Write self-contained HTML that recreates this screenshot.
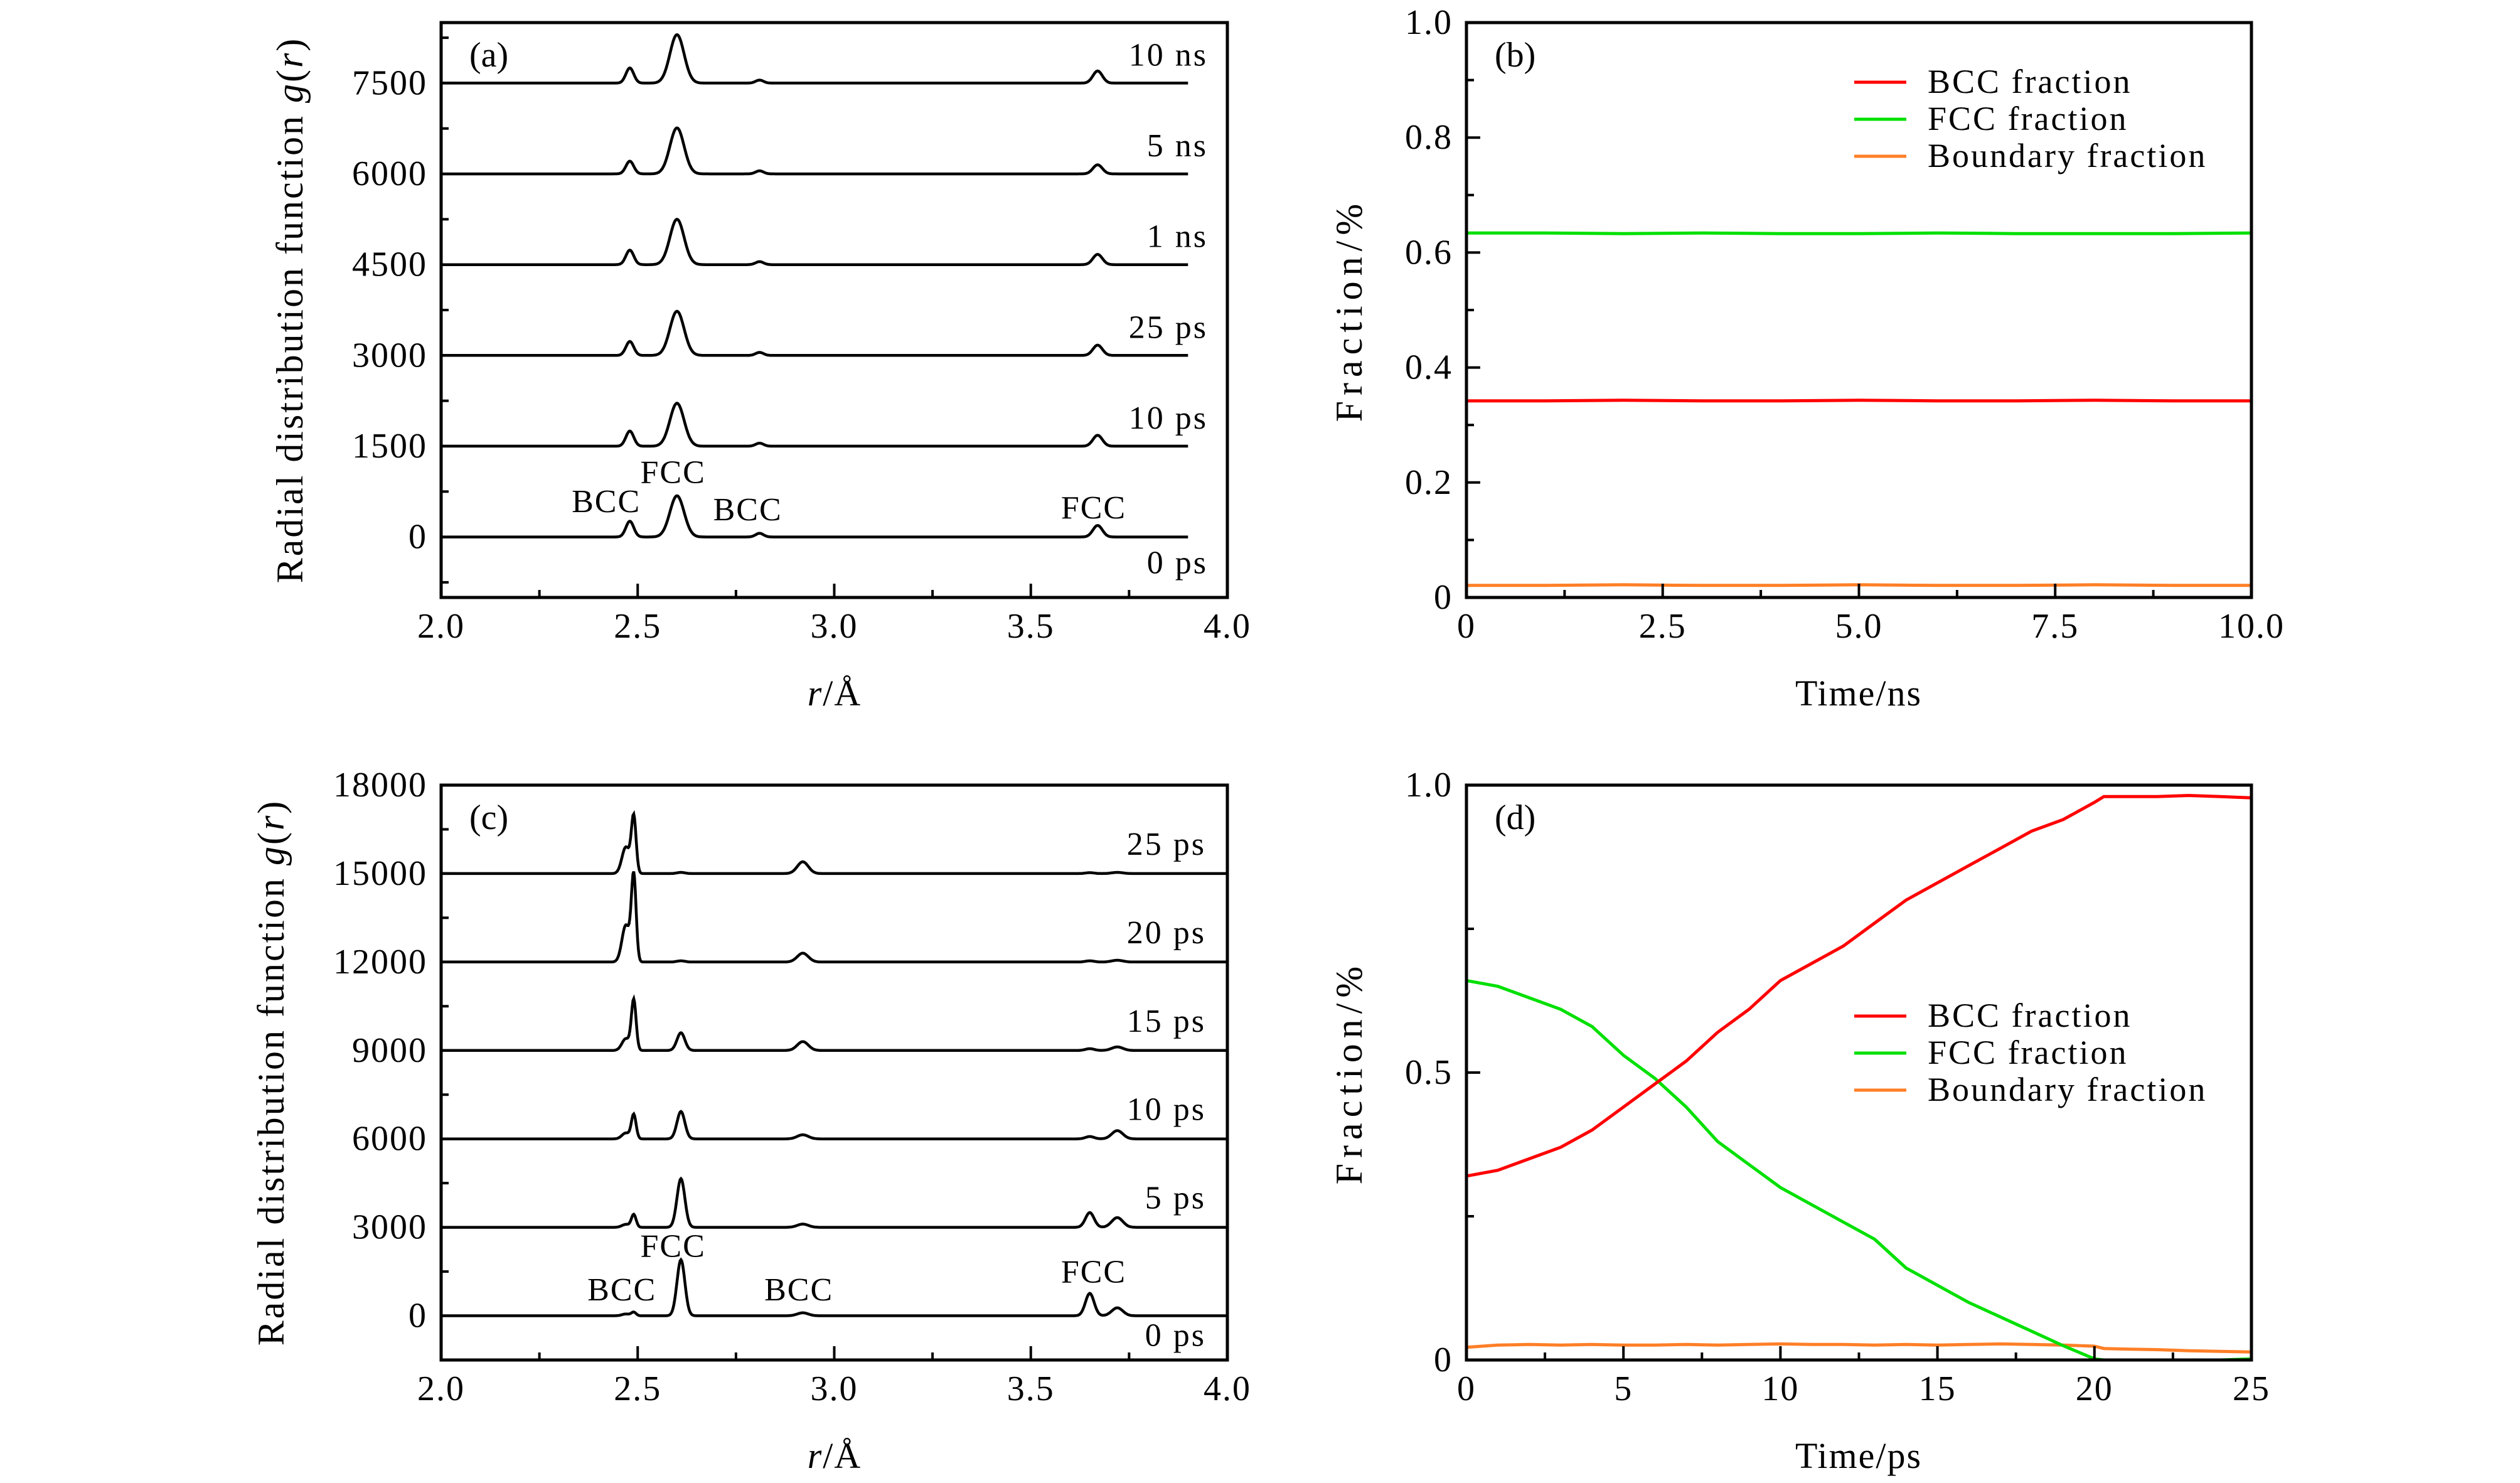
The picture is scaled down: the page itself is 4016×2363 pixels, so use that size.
<!DOCTYPE html>
<html><head><meta charset="utf-8"><style>
html,body{margin:0;padding:0;background:#fff;}
svg{display:block;font-family:"Liberation Serif",serif;}
</style></head><body>
<svg id="fig" width="4016" height="2363" viewBox="0 0 4016 2363" xmlns="http://www.w3.org/2000/svg">
<rect width="4016" height="2363" fill="#fff"/>
</svg>
<script>
// ---------- DATA ----------
const aLabels = ["0 ps","10 ps","25 ps","1 ns","5 ns","10 ns"];
const aOffsets = [0,1500,3000,4500,6000,7500];
const aPeakPos = [2.48,2.60,2.81,3.67];
const aPeakWid = [0.010,0.018,0.010,0.012];
const aHeights = [
  [260,680,60,190],
  [250,710,50,180],
  [230,730,50,170],
  [240,750,50,170],
  [210,760,50,150],
  [250,800,50,200]
];
const aTicks = [0,1500,3000,4500,6000,7500];
const aXTicks = [2.0,2.5,3.0,3.5,4.0];

const cLabels = ["0 ps","5 ps","10 ps","15 ps","20 ps","25 ps"];
const cOffsets = [0,3000,6000,9000,12000,15000];
const cPeakPos = [2.47,2.49,2.61,2.92,3.65,3.72];
const cPeakWid = [0.010,0.006,0.010,0.014,0.011,0.014];
const cHeights = [
  [60,120,1900,100,760,270],
  [100,430,1650,110,500,330],
  [200,820,930,140,80,280],
  [400,1700,600,300,60,120],
  [1250,2900,40,300,40,60],
  [900,1900,40,400,30,40]
];
const cTicks = [0,3000,6000,9000,12000,15000,18000];
const cXTicks = [2.0,2.5,3.0,3.5,4.0];

const bTime = [0,1,2,3,4,5,6,7,8,9,10];
const bBCC = [0.342,0.342,0.343,0.342,0.342,0.343,0.342,0.342,0.343,0.342,0.342];
const bFCC = [0.634,0.634,0.633,0.634,0.633,0.633,0.634,0.633,0.633,0.633,0.634];
const bBnd = [0.021,0.021,0.022,0.021,0.021,0.022,0.021,0.021,0.022,0.021,0.021];
const bXTicks = [0,2.5,5.0,7.5,10.0];
const bYTicks = [0,0.2,0.4,0.6,0.8,1.0];

const dTime = [0,1,2,3,4,5,6,7,8,9,10,11,12,13,14,15,16,17,18,19,20,20.3,21,22,23,24,25];
const dBCC = [0.32,0.33,0.35,0.37,0.40,0.44,0.48,0.52,0.57,0.61,0.66,0.69,0.72,0.76,0.80,0.83,0.86,0.89,0.92,0.94,0.97,0.98,0.98,0.98,0.982,0.98,0.978];
const dFCC = [0.66,0.65,0.63,0.61,0.58,0.53,0.49,0.44,0.38,0.34,0.30,0.27,0.24,0.21,0.16,0.13,0.10,0.075,0.05,0.025,0.002,0,0,0,0,0,0.002];
const dBnd = [0.022,0.026,0.027,0.026,0.027,0.026,0.026,0.027,0.026,0.027,0.028,0.027,0.027,0.026,0.027,0.026,0.027,0.028,0.027,0.026,0.024,0.020,0.019,0.018,0.016,0.015,0.014];
const dXTicks = [0,5,10,15,20,25];
const dYTicks = [0,0.5,1.0];

// ---------- DRAWING ----------
const NS="http://www.w3.org/2000/svg";
const svg=document.getElementById('fig');
function mk(tag,attrs,parent){const e=document.createElementNS(NS,tag);for(const k in attrs)e.setAttribute(k,attrs[k]);(parent||svg).appendChild(e);return e;}
function txt(s,x,y,size,anchor,parent,ls){const t=mk('text',{x:x,y:y,'font-size':size,'text-anchor':anchor||'middle',fill:'#000'},parent);if(ls)t.setAttribute('letter-spacing',ls);t.textContent=s;return t;}

function axes(P){
  const g=mk('g',{});
  
  
  P.sx=v=>P.L+(v-P.x0)/(P.x1-P.x0)*(P.R-P.L);
  P.sy=v=>P.B-(v-P.y0)/(P.y1-P.y0)*(P.B-P.T);
  P.g=g;return g;
}
function frame(P){
  const g=P.g;
  const f=mk('rect',{x:P.L,y:P.T,width:P.R-P.L,height:P.B-P.T,fill:'none',stroke:'#000','stroke-width':5},g);
  
  const tk=mk('g',{stroke:'#000','stroke-width':4},g);
  
  P.xt.forEach(v=>{const x=P.sx(v);mk('line',{x1:x,y1:P.B,x2:x,y2:P.B-22},tk);
    const l=txt(P.xfmt(v),x,P.B+64,56,'middle',g,2);
    });
  P.xm.forEach(v=>{const x=P.sx(v);mk('line',{x1:x,y1:P.B,x2:x,y2:P.B-12},tk);});
  P.yt.forEach(v=>{const y=P.sy(v);mk('line',{x1:P.L,y1:y,x2:P.L+22,y2:y},tk);
    const l=txt(P.yfmt(v),P.L-22,y+18,56,'end',g,2);
    });
  P.ym.forEach(v=>{const y=P.sy(v);mk('line',{x1:P.L,y1:y,x2:P.L+12,y2:y},tk);});
  const pl=txt(P.tag,P.L+45,P.T+70,56,'start',g);
  
}
function rdf(r,pos,h,w){let s=0;for(let i=0;i<pos.length;i++){const d=(r-pos[i])/w[i];s+=h[i]*Math.exp(-0.5*d*d);}return s;}

const A={name:'panel-a',L:703,R:1956,T:36,B:952,x0:2,x1:4,y0:-1000,y1:8500,tag:'(a)',
  xt:aXTicks,xm:[2.25,2.75,3.25,3.75],yt:aTicks,ym:[-750,750,2250,3750,5250,6750,8250],
  xfmt:v=>v.toFixed(1),yfmt:v=>String(v)};
axes(A);
aOffsets.forEach((off,k)=>{let d='';for(let r=2.0;r<=3.9001;r+=0.002){const x=A.sx(r),y=A.sy(off+rdf(r,aPeakPos,aHeights[k],aPeakWid));d+=(d?'L':'M')+x.toFixed(1)+' '+y.toFixed(1);}
  const p=mk('path',{d:d,fill:'none',stroke:'#000','stroke-width':4.5},A.g);
  
  const l=txt(aLabels[k],1925,A.sy(off)+(k===0?58:-28),52,'end',A.g,3);
  });
[['BCC',2.42,310],['FCC',2.59,292],['BCC',2.78,315],['FCC',3.66,314]].forEach(a=>{
  const l=txt(a[0],A.sx(a[1]),a[2]*2.574+18,52,'middle',A.g,2);
  });
frame(A);

const C={name:'panel-c',L:703,R:1956,T:1251,B:2167,x0:2,x1:4,y0:-1500,y1:18000,tag:'(c)',
  xt:cXTicks,xm:[2.25,2.75,3.25,3.75],yt:cTicks,ym:[-1500,1500,4500,7500,10500,13500,16500],
  xfmt:v=>v.toFixed(1),yfmt:v=>String(v)};
axes(C);
cOffsets.forEach((off,k)=>{let d='';for(let r=2.0;r<=4.0001;r+=0.002){const x=C.sx(r),y=C.sy(off+rdf(r,cPeakPos,cHeights[k],cPeakWid));d+=(d?'L':'M')+x.toFixed(1)+' '+y.toFixed(1);}
  const p=mk('path',{d:d,fill:'none',stroke:'#000','stroke-width':4.5},C.g);
  
  const l=txt(cLabels[k],1922,C.sy(off)+(k===0?48:-30),52,'end',C.g,3);
  });
[['BCC',2.46,798],['FCC',2.59,771],['BCC',2.91,798],['FCC',3.66,787]].forEach(a=>{
  const l=txt(a[0],C.sx(a[1]),a[2]*2.574+18,52,'middle',C.g,2);
  });
frame(C);

const B={name:'panel-b',L:2337,R:3588,T:36,B:952,x0:0,x1:10,y0:0,y1:1,tag:'(b)',
  xt:bXTicks,xm:[1.25,3.75,6.25,8.75],yt:bYTicks,ym:[0.1,0.3,0.5,0.7,0.9],
  xfmt:v=>v===0?'0':v.toFixed(1),yfmt:v=>v===0?'0':v.toFixed(1)};
axes(B);
function series(P,xs,ys,col,name){const d=xs.map((t,i)=>(i?'L':'M')+P.sx(t).toFixed(1)+' '+P.sy(ys[i]).toFixed(1)).join('');
  const p=mk('path',{d:d,fill:'none',stroke:col,'stroke-width':5},P.g);
  }
series(B,bTime,bBnd,'#ff7f27','boundary-fraction-line');
series(B,bTime,bBCC,'#ff0000','bcc-fraction-line');
series(B,bTime,bFCC,'#00e000','fcc-fraction-line');
frame(B);

const D={name:'panel-d',L:2337,R:3588,T:1251,B:2167,x0:0,x1:25,y0:0,y1:1,tag:'(d)',
  xt:dXTicks,xm:[2.5,7.5,12.5,17.5,22.5],yt:dYTicks,ym:[0.25,0.75],
  xfmt:v=>String(v),yfmt:v=>v===0?'0':v.toFixed(1)};
axes(D);
series(D,dTime,dBnd,'#ff7f27','boundary-fraction-line');
series(D,dTime,dFCC,'#00e000','fcc-fraction-line');
series(D,dTime,dBCC,'#ff0000','bcc-fraction-line');
frame(D);

function legend(P,y0,name){const g=mk('g',{},P.g);
  
  [['BCC fraction','#ff0000'],['FCC fraction','#00e000'],['Boundary fraction','#ff7f27']].forEach((e,i)=>{
    const y=y0+i*59;
    const ln=mk('line',{x1:2955,y1:y,x2:3038,y2:y,stroke:e[1],'stroke-width':5},g);
    
    const t=txt(e[0],3072,y+17,54,'start',g,3);
    });}
legend(B,131,'legend-b');legend(D,1619,'legend-d');

function xtitle(html,x,y,name){const t=mk('text',{x:x,y:y,'font-size':58,'text-anchor':'middle','letter-spacing':2});t.innerHTML=html;
  }
xtitle('<tspan font-style="italic">r</tspan>/Å',1330,1124,'x-axis-title-a');
xtitle('<tspan font-style="italic">r</tspan>/Å',1330,2339,'x-axis-title-c');
xtitle('Time/ns',2962,1124,'x-axis-title-b');
xtitle('Time/ps',2962,2339,'x-axis-title-d');
function ytitle(html,x,y,name,ls){const t=mk('text',{x:x,y:y,'font-size':60,'text-anchor':'middle','letter-spacing':ls,transform:'rotate(-90 '+x+' '+y+')'});t.innerHTML=html;
  }
ytitle('Radial distribution function <tspan font-style="italic">g</tspan>(<tspan font-style="italic">r</tspan>)',482,494,'y-axis-title-a',3);
ytitle('Radial distribution function <tspan font-style="italic">g</tspan>(<tspan font-style="italic">r</tspan>)',452,1709,'y-axis-title-c',3);
ytitle('Fraction/%',2170,494,'y-axis-title-b',9);
ytitle('Fraction/%',2170,1709,'y-axis-title-d',9);
</script>
</body></html>
